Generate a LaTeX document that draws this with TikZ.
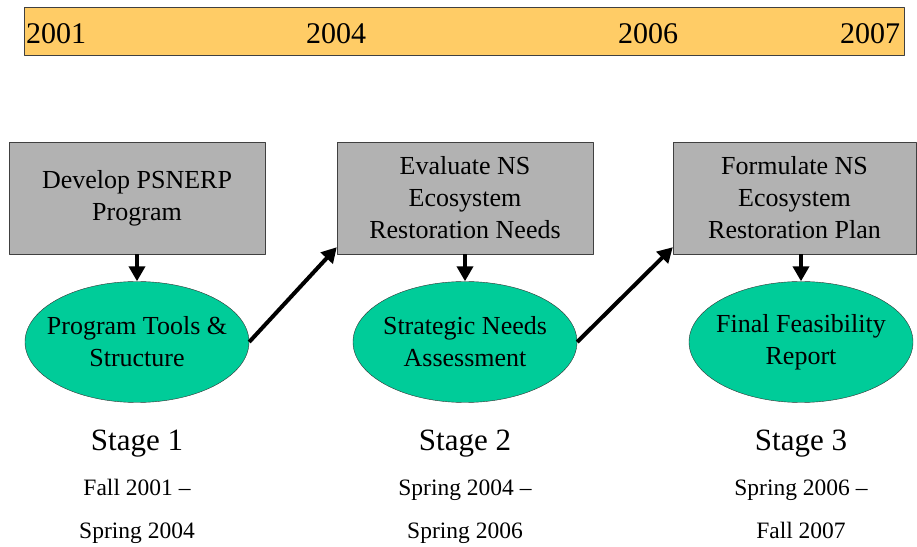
\documentclass[tikz,border=0pt]{standalone}
\usepackage{fontspec}
\setmainfont{Liberation Serif}
\usetikzlibrary{positioning}
\usetikzlibrary{calc}
\usetikzlibrary{shapes}
\usetikzlibrary{arrows.meta}
\definecolor{barorange}{HTML}{FFCC66}
\definecolor{boxgray}{HTML}{B2B2B2}
\definecolor{ovalgreen}{HTML}{00CC99}

\begin{document}
\begin{tikzpicture}[x=1pt,y=1pt,line join=round,>={Triangle[length=15pt,width=16pt]},
  taskbox/.style={draw=black!75,fill=boxgray,minimum width=256pt,minimum height=112pt,align=center,inner sep=0pt,font=\fontsize{26}{32}\selectfont},
  outcome/.style={ellipse,draw=black!80,fill=ovalgreen,minimum width=224pt,minimum height=121pt,inner sep=0pt,
    label={[align=center,inner sep=0pt,font=\fontsize{26}{32}\selectfont]center:#1}},
  year/.style={anchor=base west,inner sep=0pt,font=\fontsize{30}{36}\selectfont},
  stagename/.style={anchor=base,inner sep=0pt,font=\fontsize{31}{37}\selectfont},
  stagedate/.style={anchor=base,inner sep=0pt,font=\fontsize{23.5}{28}\selectfont},
  flow/.style={->,line width=4pt}]
\useasboundingbox (0,0) rectangle (917,546);
% timeline bar
\node[draw=black!75,fill=barorange,minimum width=880pt,minimum height=48pt,inner sep=0pt] (bar) at (464,515) {};
\node[year] (y2001) at (26,502) {2001};
\node[year] (y2004) at (306,502) {2004};
\node[year] (y2006) at (618,502) {2006};
\node[year] (y2007) at (840,502) {2007};
% stages
\node[taskbox] (task1) at (137,348) {Develop PSNERP\\Program};
\node[taskbox] (task2) at (465,348) {Evaluate NS\\Ecosystem\\Restoration Needs};
\node[taskbox,minimum width=243pt] (task3) at (794.5,348) {Formulate NS\\Ecosystem\\Restoration Plan};
\node[outcome={Program Tools \&\\Structure}] (out1) at (137,204) {};
\node[outcome={Strategic Needs\\Assessment}] (out2) at (465,204) {};
\node[outcome={Final Feasibility\\Report}] (out3) at (801,204) {};
\draw[flow] (task1.south) -- (out1.north);
\draw[flow] (task2.south) -- (out2.north);
\draw[flow] (task3.south -| out3.north) -- (out3.north);
\draw[flow] (out1.east) -- ($(task2.south west)+(0,7)$);
\draw[flow] (out2.east) -- ($(task3.south west)+(0,7)$);
% stage labels
\node[stagename] (st1) at (137,96) {Stage 1};
\node[stagename] (st2) at (465,96) {Stage 2};
\node[stagename] (st3) at (801,96) {Stage 3};
\node[stagedate] (from1) at (137,51) {Fall 2001 --};
\node[stagedate] (to1) at (137,8) {Spring 2004};
\node[stagedate] (from2) at (465,51) {Spring 2004 --};
\node[stagedate] (to2) at (465,8) {Spring 2006};
\node[stagedate] (from3) at (801,51) {Spring 2006 --};
\node[stagedate] (to3) at (801,8) {Fall 2007};
\end{tikzpicture}
\end{document}
